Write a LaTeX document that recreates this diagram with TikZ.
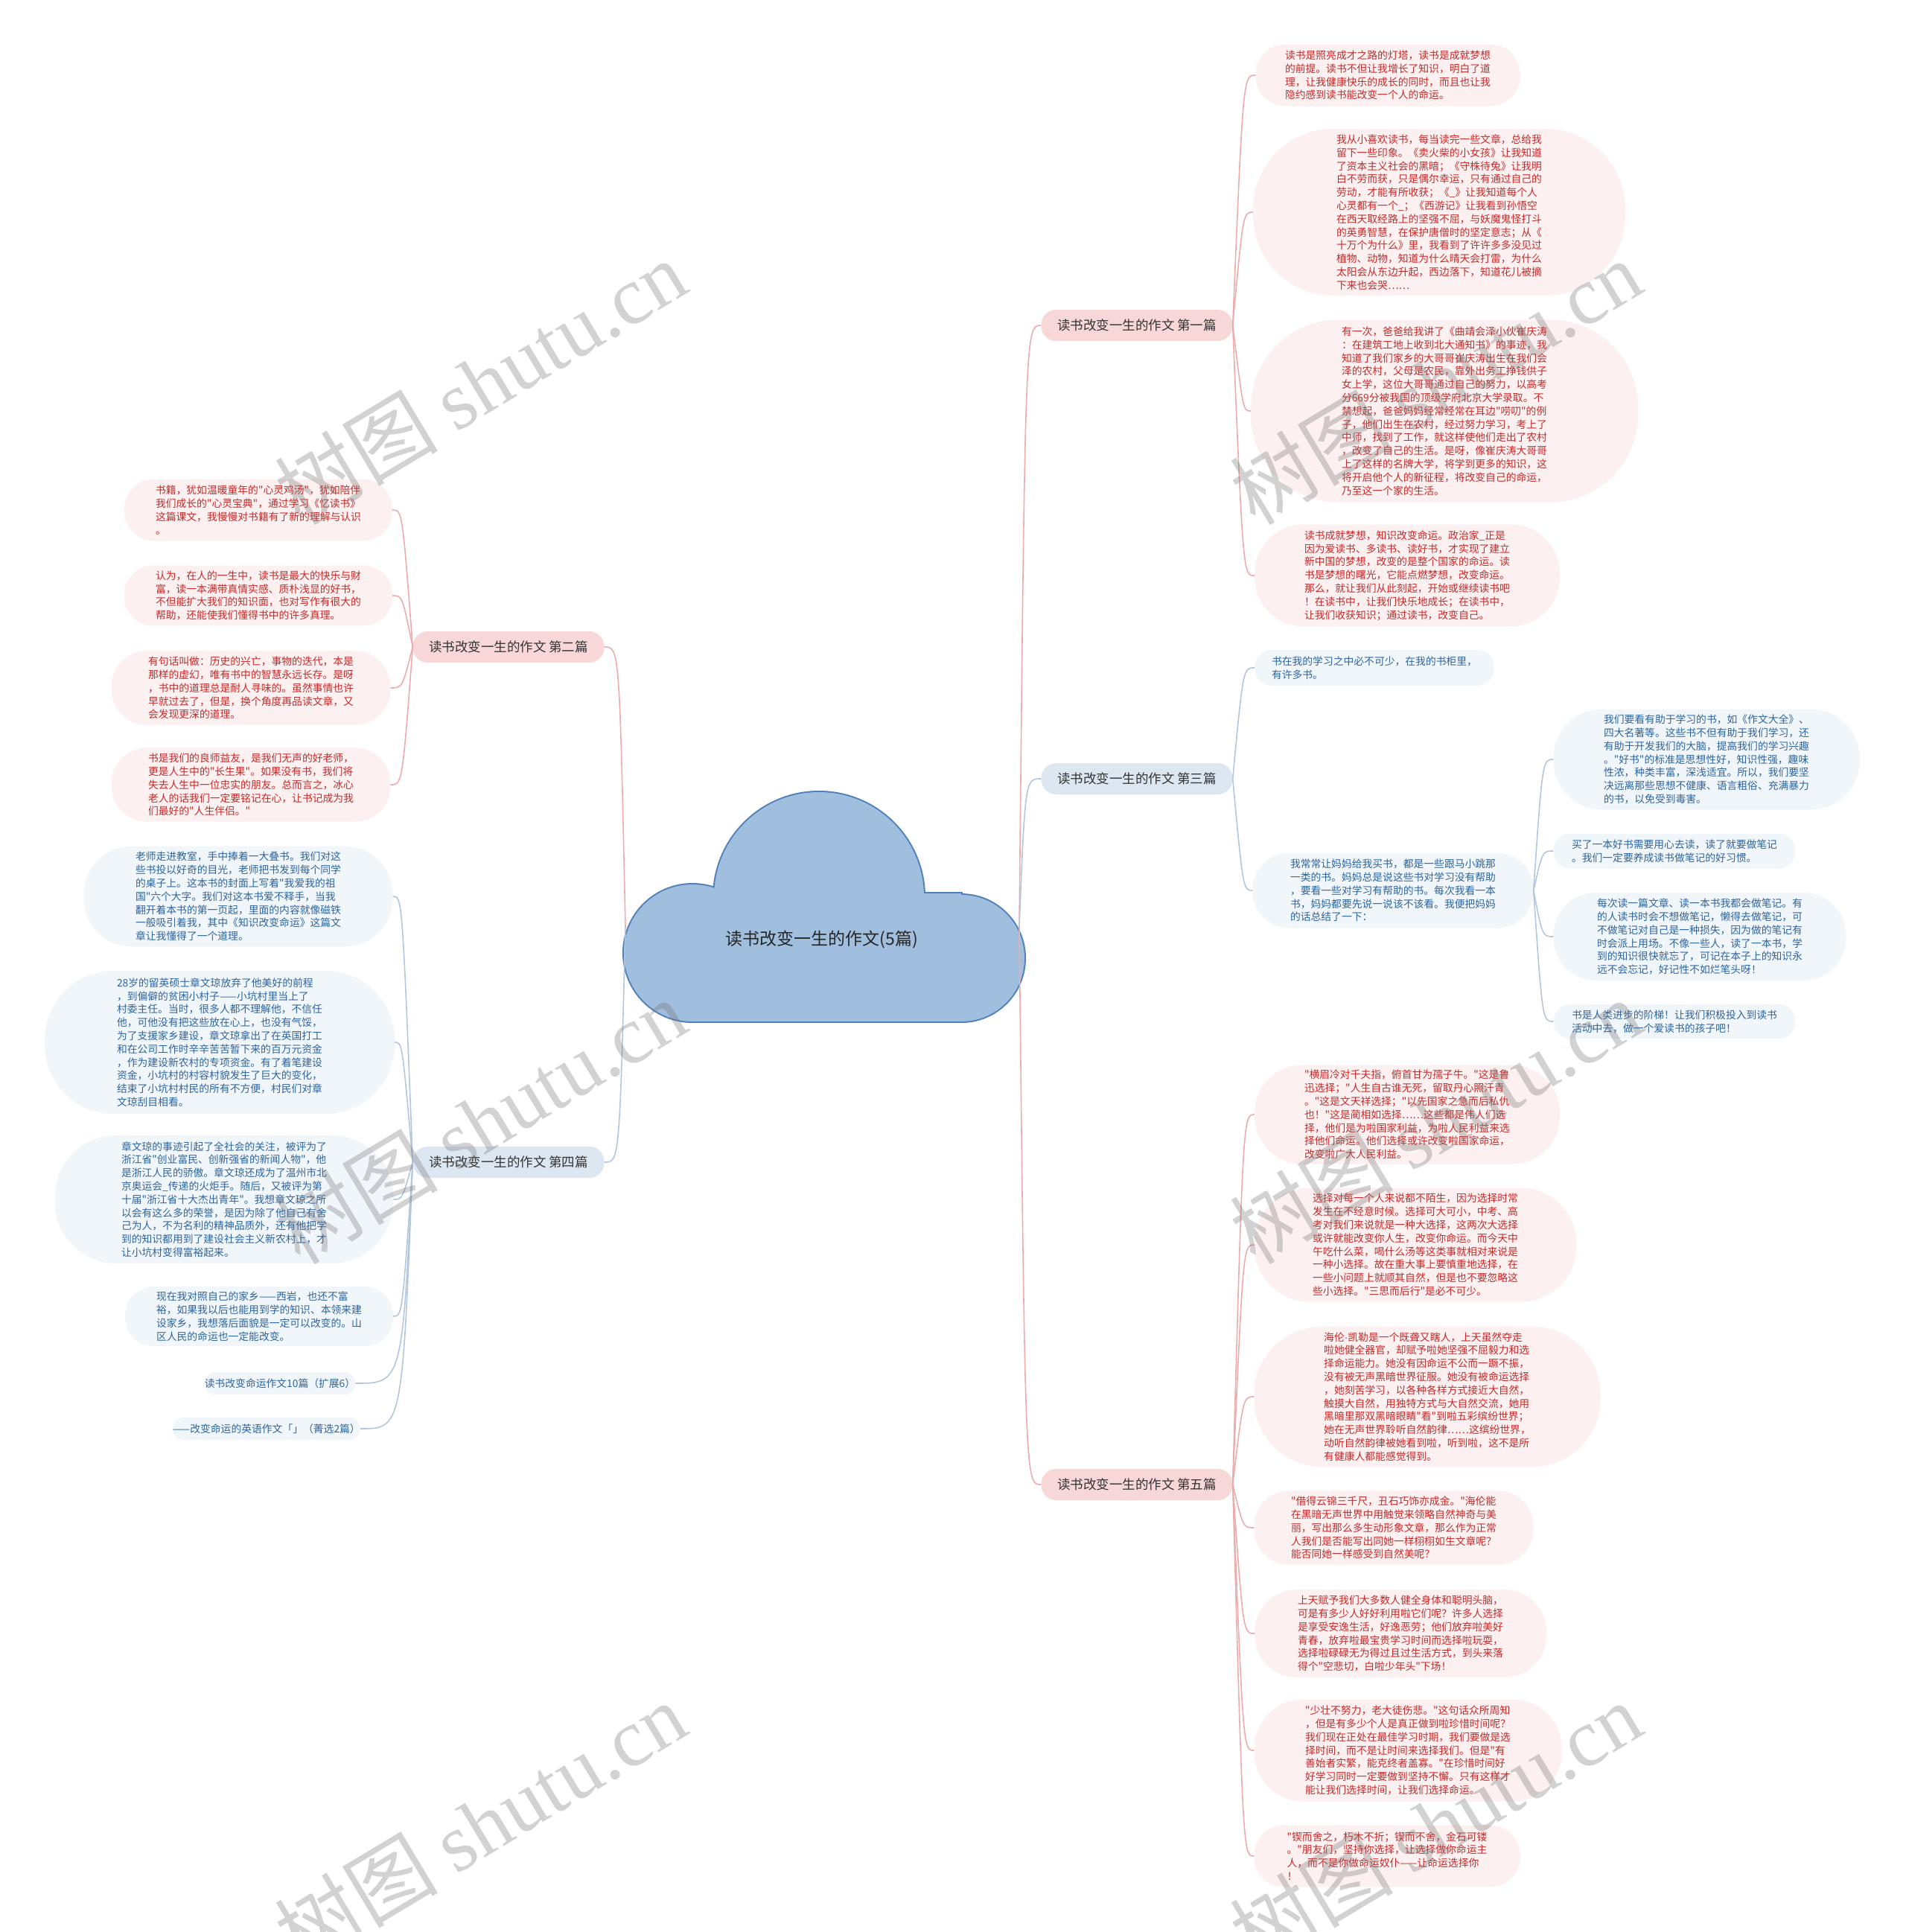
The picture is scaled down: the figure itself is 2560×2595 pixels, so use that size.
\documentclass[tikz,border=0pt]{standalone}
\usepackage{fontspec}
\newfontfamily\cjk{Noto Sans CJK SC}
\newfontfamily\wmlatin{Liberation Serif}
\newfontfamily\latinf{Liberation Sans}
\usetikzlibrary{calc}

\definecolor{redtext}{RGB}{196,42,42}
\definecolor{redfill}{RGB}{253,240,240}
\definecolor{redline}{RGB}{236,172,172}
\definecolor{redhead}{RGB}{247,215,215}
\definecolor{bluetext}{RGB}{44,100,158}
\definecolor{bluefill}{RGB}{241,246,251}
\definecolor{blueline}{RGB}{178,199,222}
\definecolor{bluehead}{RGB}{221,231,242}
\definecolor{cloudfill}{RGB}{160,190,221}
\definecolor{cloudline}{RGB}{80,128,186}

\begin{document}
\begin{tikzpicture}[x=1pt,y=-1pt,
  leaf/.style={inner sep=0pt,align=left,font=\cjk\fontsize{13.8}{17.8}\selectfont},
  leafr/.style={leaf,fill=redfill,text=redtext},
  leafb/.style={leaf,fill=bluefill,text=bluetext},
  box/.style 2 args={minimum width=#1,minimum height=#2,rounded corners={#2*0.48}},
  head/.style={minimum width=257,minimum height=42,rounded corners=20,inner sep=0pt,
    text=black!80,font=\cjk\fontsize{17.5}{20}\selectfont},
  curvy/.style={to path={.. controls ($(\tikztostart |- \tikztotarget)+(#1,0)$) .. (\tikztotarget)}},
  rlink/.style={draw=redline,line width=1.6,curvy=#1},
  blink/.style={draw=blueline,line width=1.6,curvy=#1},
  wm/.style={rotate=31,text=black!55,opacity=0.32,font=\cjk\fontsize{110}{110}\selectfont}]

  \useasboundingbox (0,0) rectangle (2560,2595);

  % centre cloud
  \foreach \cx/\cy/\r in {1100/1205/141,930/1280/92,1291/1287/85}
    \draw[cloudline,line width=4] (\cx,\cy) circle (\r);
  \draw[cloudline,line width=4] (930,1200) rectangle (1291,1372);
  \foreach \cx/\cy/\r in {1100/1205/141,930/1280/92,1291/1287/85}
    \fill[cloudfill] (\cx,\cy) circle (\r);
  \fill[cloudfill] (930,1200) rectangle (1291,1372);
  \node[font=\cjk\fontsize{23}{26}\selectfont,text=black!85] (root) at (1104,1262) {读书改变一生的作文(5篇)};
  \coordinate (cr) at (1369,1245);
  \coordinate (cl) at (840,1245);

  % branch heads
  \node[head,fill=redhead] (h1) at (1527,437) {读书改变一生的作文 第一篇};
  \node[head,fill=bluehead] (h3) at (1527,1046) {读书改变一生的作文 第三篇};
  \node[head,fill=redhead] (h5) at (1527,1994) {读书改变一生的作文 第五篇};
  \node[head,fill=redhead] (h2) at (683,869) {读书改变一生的作文 第二篇};
  \node[head,fill=bluehead] (h4) at (683,1561) {读书改变一生的作文 第四篇};

  % first
  \node[leafr,box={355}{83}] (a1) at (1864,101) {读书是照亮成才之路的灯塔，读书是成就梦想\\的前提。读书不但让我增长了知识，明白了道\\理，让我健康快乐的成长的同时，而且也让我\\隐约感到读书能改变一个人的命运。};
  \node[leafr,box={500}{224}] (a2) at (1933,285) {我从小喜欢读书，每当读完一些文章，总给我\\留下一些印象。《卖火柴的小女孩》让我知道\\了资本主义社会的黑暗；《守株待兔》让我明\\白不劳而获，只是偶尔幸运，只有通过自己的\\劳动，才能有所收获；《\_》让我知道每个人\\心灵都有一个\_；《西游记》让我看到孙悟空\\在西天取经路上的坚强不屈，与妖魔鬼怪打斗\\的英勇智慧，在保护唐僧时的坚定意志；从《\\十万个为什么》里，我看到了许许多多没见过\\植物、动物，知道为什么晴天会打雷，为什么\\太阳会从东边升起，西边落下，知道花儿被摘\\下来也会哭……};
  \node[leafr,box={520}{245}] (a3) at (1940,552) {有一次，爸爸给我讲了《曲靖会泽小伙崔庆涛\\：在建筑工地上收到北大通知书》的事迹，我\\知道了我们家乡的大哥哥崔庆涛出生在我们会\\泽的农村，父母是农民，靠外出务工挣钱供子\\女上学，这位大哥哥通过自己的努力，以高考\\分669分被我国的顶级学府北京大学录取。不\\禁想起，爸爸妈妈经常经常在耳边"唠叨"的例\\子，他们出生在农村，经过努力学习，考上了\\中师，找到了工作，就这样使他们走出了农村\\，改变了自己的生活。是呀，像崔庆涛大哥哥\\上了这样的名牌大学，将学到更多的知识，这\\将开启他个人的新征程，将改变自己的命运，\\乃至这一个家的生活。};
  \node[leafr,box={410}{137}] (a4) at (1890,773) {读书成就梦想，知识改变命运。政治家\_正是\\因为爱读书、多读书、读好书，才实现了建立\\新中国的梦想，改变的是整个国家的命运。读\\书是梦想的曙光，它能点燃梦想，改变命运。\\那么，就让我们从此刻起，开始或继续读书吧\\！在读书中，让我们快乐地成长；在读书中，\\让我们收获知识；通过读书，改变自己。};

  % third
  \node[leafb,box={322}{48}] (c1) at (1846,897) {书在我的学习之中必不可少，在我的书柜里，\\有许多书。};
  \node[leafb,box={377}{101}] (c2) at (1871,1196) {我常常让妈妈给我买书，都是一些跟马小跳那\\一类的书。妈妈总是说这些书对学习没有帮助\\，要看一些对学习有帮助的书。每次我看一本\\书，妈妈都要先说一说该不该看。我便把妈妈\\的话总结了一下：};
  \node[leafb,box={411}{135}] (c3) at (2292,1020) {我们要看有助于学习的书，如《作文大全》、\\四大名著等。这些书不但有助于我们学习，还\\有助于开发我们的大脑，提高我们的学习兴趣\\。"好书"的标准是思想性好，知识性强，趣味\\性浓，种类丰富，深浅适宜。所以，我们要坚\\决远离那些思想不健康、语言粗俗、充满暴力\\的书，以免受到毒害。};
  \node[leafb,box={325}{47}] (c4) at (2249,1143) {买了一本好书需要用心去读，读了就要做笔记\\。我们一定要养成读书做笔记的好习惯。};
  \node[leafb,box={393}{118}] (c5) at (2283,1258) {每次读一篇文章、读一本书我都会做笔记。有\\的人读书时会不想做笔记，懒得去做笔记，可\\不做笔记对自己是一种损失，因为做的笔记有\\时会派上用场。不像一些人，读了一本书，学\\到的知识很快就忘了，可记在本子上的知识永\\远不会忘记，好记性不如烂笔头呀！};
  \node[leafb,box={325}{46}] (c6) at (2249,1372) {书是人类进步的阶梯！让我们积极投入到读书\\活动中去，做一个爱读书的孩子吧！};

  % fifth
  \node[leafr,box={410}{133}] (e1) at (1890,1497) {"横眉冷对千夫指，俯首甘为孺子牛。"这是鲁\\迅选择；"人生自古谁无死，留取丹心照汗青\\。"这是文天祥选择；"以先国家之急而后私仇\\也！"这是蔺相如选择……这些都是伟人们选\\择，他们是为啦国家利益，为啦人民利益来选\\择他们命运。他们选择或许改变啦国家命运，\\改变啦广大人民利益。};
  \node[leafr,box={432}{153}] (e2) at (1901,1672) {选择对每一个人来说都不陌生，因为选择时常\\发生在不经意时候。选择可大可小，中考、高\\考对我们来说就是一种大选择，这两次大选择\\或许就能改变你人生，改变你命运。而今天中\\午吃什么菜，喝什么汤等这类事就相对来说是\\一种小选择。故在重大事上要慎重地选择，在\\一些小问题上就顺其自然，但是也不要忽略这\\些小选择。"三思而后行"是必不可少。};
  \node[leafr,box={465}{188}] (e3) at (1917,1876) {海伦{\latinf ·}凯勒是一个既聋又瞎人，上天虽然夺走\\啦她健全器官，却赋予啦她坚强不屈毅力和选\\择命运能力。她没有因命运不公而一蹶不振，\\没有被无声黑暗世界征服。她没有被命运选择\\，她刻苦学习，以各种各样方式接近大自然，\\触摸大自然，用独特方式与大自然交流，她用\\黑暗里那双黑暗眼睛"看"到啦五彩缤纷世界；\\她在无声世界聆听自然韵律……这缤纷世界，\\动听自然韵律被她看到啦，听到啦，这不是所\\有健康人都能感觉得到。};
  \node[leafr,box={375}{100}] (e4) at (1872,2052) {"借得云锦三千尺，丑石巧饰亦成金。"海伦能\\在黑暗无声世界中用触觉来领略自然神奇与美\\丽，写出那么多生动形象文章，那么作为正常\\人我们是否能写出同她一样栩栩如生文章呢？\\能否同她一样感受到自然美呢？};
  \node[leafr,box={392}{118}] (e5) at (1881,2194) {上天赋予我们大多数人健全身体和聪明头脑，\\可是有多少人好好利用啦它们呢？许多人选择\\是享受安逸生活，好逸恶劳；他们放弃啦美好\\青春，放弃啦最宝贵学习时间而选择啦玩耍，\\选择啦碌碌无为得过且过生活方式，到头来落\\得个"空悲切，白啦少年头"下场！};
  \node[leafr,box={413}{137}] (e6) at (1891,2351) {"少壮不努力，老大徒伤悲。"这句话众所周知\\，但是有多少个人是真正做到啦珍惜时间呢？\\我们现在正处在最佳学习时期，我们要做是选\\择时间，而不是让时间来选择我们。但是"有\\善始者实繁，能克终者盖寡。"在珍惜时间好\\好学习同时一定要做到坚持不懈。只有这样才\\能让我们选择时间，让我们选择命运。};
  \node[leafr,box={357}{83}] (e7) at (1863,2493) {"锲而舍之，朽木不折；锲而不舍，金石可镂\\。"朋友们，坚持你选择，让选择做你命运主\\人，而不是你做命运奴仆——让命运选择你\\！};

  % second
  \node[leafr,box={360}{83}] (b1) at (347,685) {书籍，犹如温暖童年的"心灵鸡汤"，犹如陪伴\\我们成长的"心灵宝典"，通过学习《忆读书》\\这篇课文，我慢慢对书籍有了新的理解与认识\\。};
  \node[leafr,box={360}{81}] (b2) at (347,800) {认为，在人的一生中，读书是最大的快乐与财\\富，读一本满带真情实感、质朴浅显的好书，\\不但能扩大我们的知识面，也对写作有很大的\\帮助，还能使我们懂得书中的许多真理。};
  \node[leafr,box={375}{100}] (b3) at (337,924) {有句话叫做：历史的兴亡，事物的迭代，本是\\那样的虚幻，唯有书中的智慧永远长存。是呀\\，书中的道理总是耐人寻味的。虽然事情也许\\早就过去了，但是，换个角度再品读文章，又\\会发现更深的道理。};
  \node[leafr,box={375}{99}] (b4) at (337,1054) {书是我们的良师益友，是我们无声的好老师，\\更是人生中的"长生果"。如果没有书，我们将\\失去人生中一位忠实的朋友。总而言之，冰心\\老人的话我们一定要铭记在心，让书记成为我\\们最好的"人生伴侣。"};

  % fourth
  \node[leafb,box={415}{135}] (d1) at (320,1204) {老师走进教室，手中捧着一大叠书。我们对这\\些书投以好奇的目光，老师把书发到每个同学\\的桌子上。这本书的封面上写着"我爱我的祖\\国"六个大字。我们对这本书爱不释手，当我\\翻开着本书的第一页起，里面的内容就像磁铁\\一般吸引着我，其中《知识改变命运》这篇文\\章让我懂得了一个道理。};
  \node[leafb,box={470}{192}] (d2) at (295,1400) {28岁的留英硕士章文琼放弃了他美好的前程\\，到偏僻的贫困小村子——小坑村里当上了\\村委主任。当时，很多人都不理解他，不信任\\他，可他没有把这些放在心上，也没有气馁，\\为了支援家乡建设，章文琼拿出了在英国打工\\和在公司工作时辛辛苦苦暂下来的百万元资金\\，作为建设新农村的专项资金。有了着笔建设\\资金，小坑村的村容村貌发生了巨大的变化，\\结束了小坑村村民的所有不方便，村民们对章\\文琼刮目相看。};
  \node[leafb,box={455}{172}] (d3) at (301,1611) {章文琼的事迹引起了全社会的关注，被评为了\\浙江省"创业富民、创新强省的新闻人物"，他\\是浙江人民的骄傲。章文琼还成为了温州市北\\京奥运会\_传递的火炬手。随后，又被评为第\\十届"浙江省十大杰出青年"。我想章文琼之所\\以会有这么多的荣誉，是因为除了他自己有舍\\己为人，不为名利的精神品质外，还有他把学\\到的知识都用到了建设社会主义新农村上，才\\让小坑村变得富裕起来。};
  \node[leafb,box={360}{80}] (d4) at (348,1768) {现在我对照自己的家乡——西岩，也还不富\\裕，如果我以后也能用到学的知识、本领来建\\设家乡，我想落后面貌是一定可以改变的。山\\区人民的命运也一定能改变。};
  \node[leafb,box={196}{30}] (d5) at (376,1858) {读书改变命运作文10篇（扩展6）};
  \node[leafb,box={230}{30}] (d6) at (358,1919) {——改变命运的英语作文「」（菁选2篇）};

  % connectors
  \path (cr) edge[rlink=8] (h1.west) edge[blink=8] (h3.west) edge[rlink=8] (h5.west);
  \path (cl) edge[rlink=-8] (h2.east) edge[blink=-8] (h4.east);
  \path (h1.east) edge[rlink=14] (a1.west) edge[rlink=14] (a2.west)
    edge[rlink=14] (a3.west) edge[rlink=14] (a4.west);
  \path (h3.east) edge[blink=14] (c1.west) edge[blink=14] (c2.west);
  \path (c2.east) edge[blink=12] (c3.west) edge[blink=12] (c4.west)
    edge[blink=12] (c5.west) edge[blink=12] (c6.west);
  \path (h5.east) edge[rlink=14] (e1.west) edge[rlink=14] (e2.west)
    edge[rlink=14] (e3.west) edge[rlink=14] (e4.west) edge[rlink=14] (e5.west)
    edge[rlink=14] (e6.west) edge[rlink=14] (e7.west);
  \path (h2.west) edge[rlink=-14] (b1.east) edge[rlink=-14] (b2.east)
    edge[rlink=-14] (b3.east) edge[rlink=-14] (b4.east);
  \path (h4.west) edge[blink=-14] (d1.east) edge[blink=-14] (d2.east)
    edge[blink=-14] (d3.east) edge[blink=-14] (d4.east) edge[blink=-14] (d5.east)
    edge[blink=-14] (d6.east);

  % watermark
  \node[wm] (w1) at (645,513) {树图 {\wmlatin shutu.cn}};
  \node[wm] (w2) at (1928,513) {树图 {\wmlatin shutu.cn}};
  \node[wm] (w3) at (645,1506) {树图 {\wmlatin shutu.cn}};
  \node[wm] (w4) at (1928,1506) {树图 {\wmlatin shutu.cn}};
  \node[wm] (w5) at (645,2450) {树图 {\wmlatin shutu.cn}};
  \node[wm] (w6) at (1928,2450) {树图 {\wmlatin shutu.cn}};
\end{tikzpicture}
\end{document}
